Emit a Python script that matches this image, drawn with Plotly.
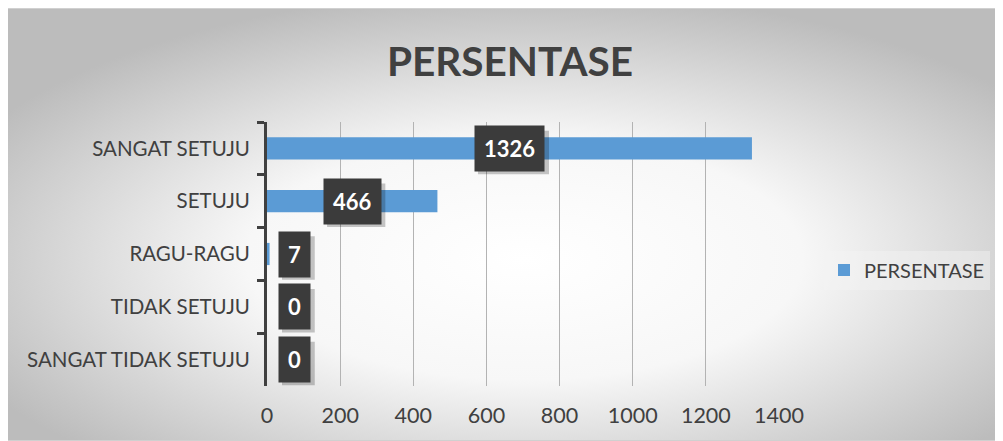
import base64
import plotly.graph_objects as go

categories = ["SANGAT SETUJU", "SETUJU", "RAGU-RAGU", "TIDAK SETUJU", "SANGAT TIDAK SETUJU"]
values = [1326, 466, 7, 0, 0]
series_name = "PERSENTASE"
title_text = "PERSENTASE"
x_ticks = [0, 200, 400, 600, 800, 1000, 1200, 1400]

# page has an 8px body margin, so the figure is drawn at (8, 8)
OFF = 8
W, H = 1003 - OFF, 441 - OFF
L = 267 - OFF
R = W - (779 - OFF)
T = 122 - OFF
B = H - (386 - OFF)
pw, ph = W - L - R, H - T - B
XMAX = 1400
FONT = "Lato"
TXT = "#404040"
LABEL_SIZE = 22
PAD = 9

svg = '''<svg xmlns="http://www.w3.org/2000/svg" width="997" height="433" viewBox="0 0 997 433" preserveAspectRatio="none">
<defs><radialGradient id="g" cx="52%" cy="58%" r="62%" fx="52%" fy="58%">
<stop offset="0" stop-color="#ffffff"/><stop offset="0.45" stop-color="#f7f7f7"/>
<stop offset="1" stop-color="#bcbcbc"/></radialGradient></defs>
<rect x="0" y="0" width="997" height="433" fill="url(#g)" stroke="#d0d0d0" stroke-width="2"/></svg>'''
bg_src = "data:image/svg+xml;base64," + base64.b64encode(svg.encode()).decode()

fig = go.Figure()
fig.add_trace(go.Bar(
    y=categories, x=values, orientation="h", name=series_name,
    marker=dict(color="#5b9bd5", line=dict(width=0)), showlegend=True,
))

px_per_unit = pw / XMAX
for i, (c, v) in enumerate(zip(categories, values)):
    small = v * px_per_unit / 2 < 45
    xpos = 0 if small else v / 2
    anchor = "left" if small else "center"
    shift = 11 if small else 0
    # approximate label box size for the drop shadow
    bw = len(str(v)) * 0.58 * LABEL_SIZE + 2 * PAD + 2
    bh = 1.25 * LABEL_SIZE + 2 * PAD - 2
    if small:
        sx0, sx1 = shift, shift + bw
    else:
        sx0, sx1 = -bw / 2, bw / 2
    fig.add_shape(type="rect", xref="x", yref="y", xsizemode="pixel", ysizemode="pixel",
                  xanchor=xpos, yanchor=i, x0=sx0 + 4, x1=sx1 + 4, y0=-bh / 2 - 4, y1=bh / 2 - 4,
                  fillcolor="rgba(0,0,0,0.22)", line=dict(width=0), layer="above")
    fig.add_annotation(x=xpos, y=c, xref="x", yref="y", text=f"<b>{v}</b>",
                       showarrow=False, xanchor=anchor, xshift=shift,
                       font=dict(family=FONT, size=LABEL_SIZE, color="white"),
                       bgcolor="#3b3b3b", borderpad=PAD)

# chart frame starts at page (6, 8) -> figure (-2, 0)
fx0, fy0 = 6 - OFF, 8 - OFF
fig.add_layout_image(dict(
    source=bg_src, xref="paper", yref="paper",
    x=(fx0 - L) / pw, y=(H - B - fy0) / ph,
    sizex=(W - fx0) / pw, sizey=(H - fy0) / ph,
    xanchor="left", yanchor="top", sizing="stretch", layer="below",
))

fig.update_layout(
    width=W, height=H,
    margin=dict(l=L, r=R, t=T, b=B, autoexpand=False),
    paper_bgcolor="white", plot_bgcolor="rgba(0,0,0,0)",
    bargap=0.58,
    title=dict(text=f"<b>{title_text}</b>", x=(510 - OFF) / W, xanchor="center",
               y=1 - (62 - OFF) / H, yanchor="middle", yref="container",
               font=dict(family=FONT, size=40.5, color=TXT)),
    font=dict(family=FONT, size=20.5, color=TXT),
    legend=dict(x=(824 - OFF - L) / pw, y=(H - B - (270 - OFF)) / ph,
                xanchor="left", yanchor="middle",
                bgcolor="rgba(245,245,245,0.45)", font=dict(family=FONT, size=20, color=TXT),
                itemwidth=30),
    xaxis=dict(range=[0, XMAX], tickvals=x_ticks, showgrid=True, gridcolor="#b3b3b3",
               gridwidth=1, zeroline=False, showline=False, ticks="",
               tickfont=dict(family=FONT, size=21.5, color=TXT), ticklabelstandoff=14),
    yaxis=dict(autorange="reversed", showline=True, linecolor=TXT, linewidth=3,
               ticks="outside", tickson="boundaries", ticklen=7, tickwidth=3, tickcolor=TXT,
               tickfont=dict(family=FONT, size=20.5, color=TXT), ticklabelstandoff=10,
               showgrid=False),
)

fig.write_html("out.html")
